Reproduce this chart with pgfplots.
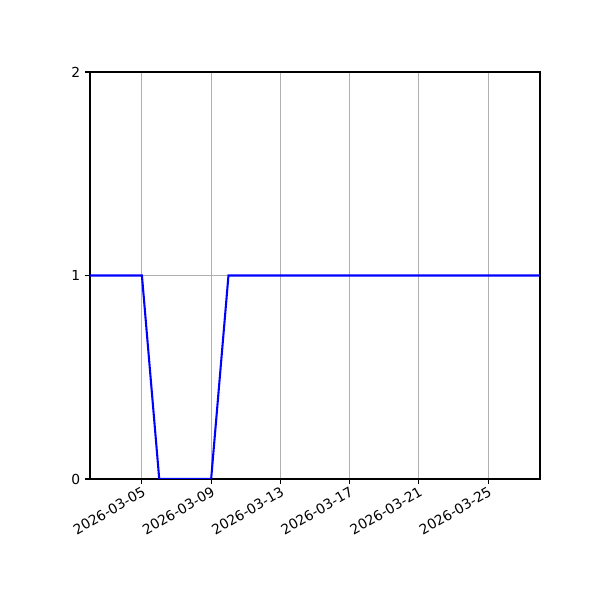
\documentclass[border=0pt]{standalone}
\usepackage{fontspec}
\setmainfont{DejaVu Sans}
\usepackage{pgfplots}
\pgfplotsset{compat=1.18}
\begin{document}
\fontsize{10pt}{12pt}\selectfont
\begin{tikzpicture}
\path[use as bounding box] (0,0) rectangle (6in,6in);
\begin{axis}[
  at={(0.9in,1.21in)}, anchor=south west,
  scale only axis, width=4.5in, height=4.07in,
  xmin=2, xmax=28, ymin=0, ymax=2,
  xtick={5,9,13,17,21,25},
  xticklabels={2026-03-05,2026-03-09,2026-03-13,2026-03-17,2026-03-21,2026-03-25},
  ytick={0,1,2},
  x tick label style={rotate=30, anchor=north east, font=\fontsize{10pt}{12pt}\selectfont, inner sep=1pt},
  y tick label style={font=\fontsize{10pt}{12pt}\selectfont},
  /pgf/number format/assume math mode=true,
  tick align=outside, tick pos=lower,
  major tick length=3.5pt,
  every tick/.style={black, line width=0.8pt},
  xmajorgrids, ymajorgrids,
  grid style={color=black!31, line width=0.8pt},
  axis line style={line width=0.8pt},
  axis on top=false,
]
\addplot[color=blue, line width=1.5pt, mark=none] coordinates {
(2,1) (3,1) (4,1) (5,1) (6,0) (7,0) (8,0) (9,0) (10,1) (11,1) (12,1) (13,1) (14,1) (15,1) (16,1) (17,1) (18,1) (19,1) (20,1) (21,1) (22,1) (23,1) (24,1) (25,1) (26,1) (27,1) (28,1)
};
\end{axis}
\end{tikzpicture}
\end{document}
